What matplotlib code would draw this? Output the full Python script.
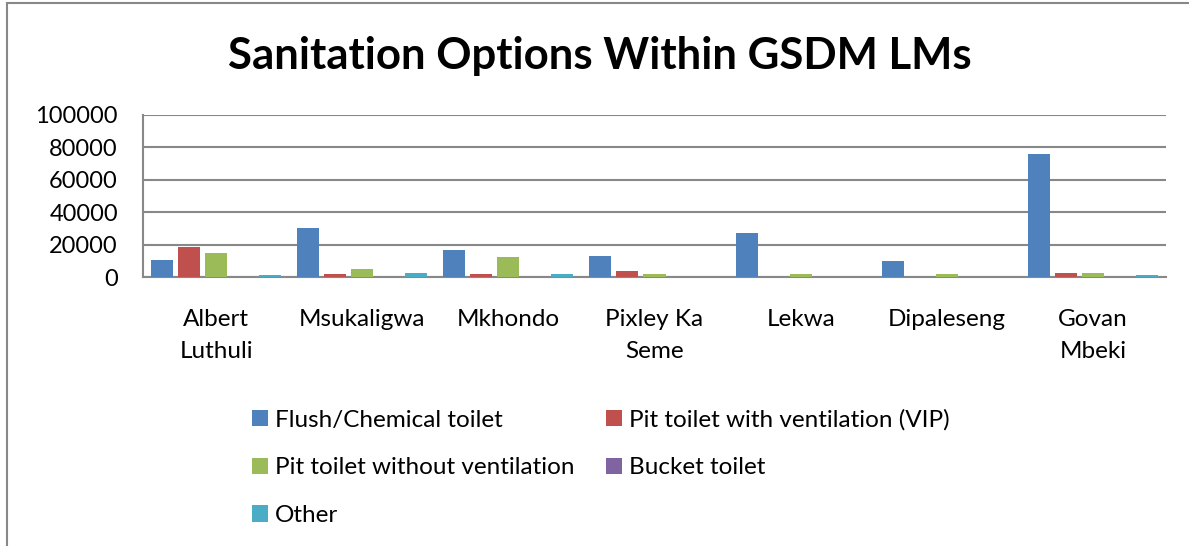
import matplotlib
matplotlib.use("Agg")
import matplotlib.pyplot as plt
import numpy as np
from matplotlib.patches import Rectangle

plt.rcParams['font.family'] = ['Lato', 'DejaVu Sans']

categories = ["Albert\nLuthuli", "Msukaligwa", "Mkhondo", "Pixley Ka\nSeme",
              "Lekwa", "Dipaleseng", "Govan\nMbeki"]
series_names = ["Flush/Chemical toilet", "Pit toilet with ventilation (VIP)",
                "Pit toilet without ventilation", "Bucket toilet", "Other"]
flush = [10800, 30400, 16700, 13100, 26900, 9800, 76200]
vip = [18300, 1700, 2100, 3700, 0, 0, 2700]
pit_no_vent = [14800, 4800, 12300, 2100, 1600, 1600, 2300]
bucket = [0, 0, 0, 0, 0, 0, 0]
other = [1300, 2300, 1900, 0, 0, 0, 1300]
colors = ["#4F81BD", "#C0504D", "#9BBB59", "#8064A2", "#4BACC6"]
yticks = [0, 20000, 40000, 60000, 80000, 100000]

W, H = 1189, 546
fig = plt.figure(figsize=(W / 100, H / 100), dpi=100)
ax = fig.add_axes([143 / W, 1 - 277 / H, (1166 - 143) / W, (277 - 115) / H])

# outer chart border
fig.patches.append(Rectangle((7 / W, -0.05), 1.2, 1 - 3 / H + 0.05, transform=fig.transFigure,
                             fill=False, edgecolor="#888888", linewidth=1.5))

x = np.arange(len(categories))
pitch = 27 / 146
width = 22 / 146
all_series = [flush, vip, pit_no_vent, bucket, other]
handles = []
for i, (vals, name, c) in enumerate(zip(all_series, series_names, colors)):
    b = ax.bar(x + (i - 2) * pitch, vals, width, bottom=0, color=c, label=name,
               linewidth=0, zorder=5)
    handles.append(b)

ax.set_xlim(-0.5, len(categories) - 0.5)
ax.set_ylim(0, 100000)
ax.set_yticks(yticks)
ax.set_yticklabels([str(v) for v in yticks], fontsize=17)
ax.set_xticks(x)
ax.set_xticklabels(categories, fontsize=17.5, linespacing=1.65)
ax.tick_params(axis='x', length=0, pad=23)
ax.tick_params(axis='y', length=0, pad=18)
ax.grid(axis='y', color="#888888", linewidth=1.5, zorder=0)
ax.set_axisbelow(True)
for s in ['top', 'right']:
    ax.spines[s].set_visible(False)
for s in ['left', 'bottom']:
    ax.spines[s].set_color("#888888")
    ax.spines[s].set_linewidth(1.5)
    ax.spines[s].set_zorder(2)

fig.text(600 / W, 1 - 56 / H, "Sanitation Options Within GSDM LMs", ha='center', va='center',
         fontsize=31.5, fontweight='bold')

order = [0, 2, 4, 1, 3]
leg = fig.legend([handles[i] for i in order], [series_names[i] for i in order],
                 loc='upper left', bbox_to_anchor=(252 / W, 1 - 409 / H), ncol=2,
                 frameon=False, fontsize=17.5, handlelength=0.65, handleheight=0.65,
                 handletextpad=0.3, labelspacing=1.1, columnspacing=1.3,
                 borderaxespad=0, borderpad=0)

fig.savefig("out.png", dpi=100)
